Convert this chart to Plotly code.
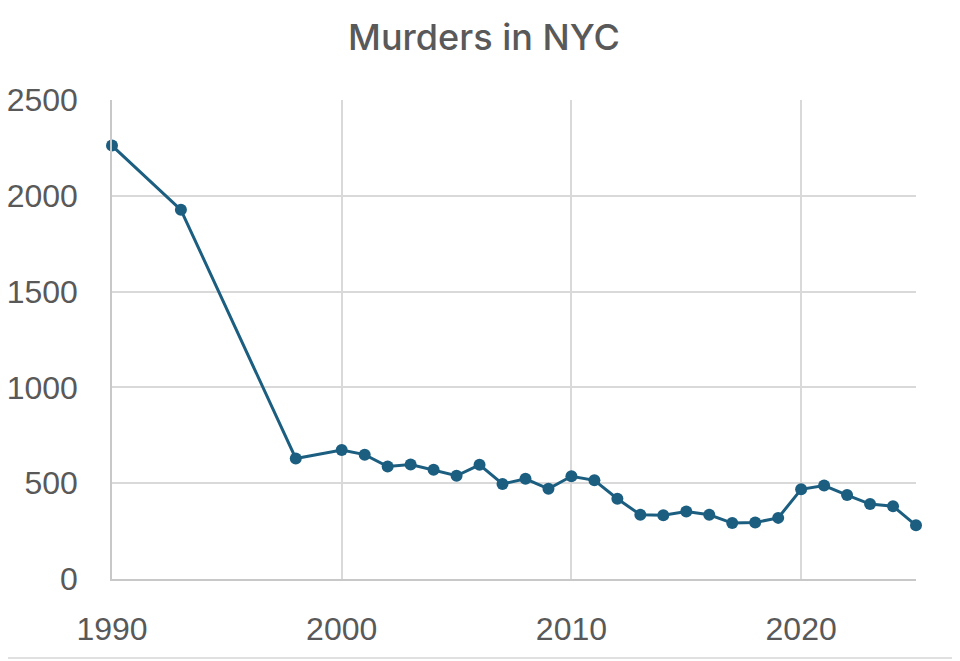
import plotly.graph_objects as go

years = [1990, 1993, 1998, 2000, 2001, 2002, 2003, 2004, 2005, 2006, 2007, 2008,
         2009, 2010, 2011, 2012, 2013, 2014, 2015, 2016, 2017, 2018, 2019, 2020,
         2021, 2022, 2023, 2024, 2025]
murders = [2262, 1927, 629, 673, 649, 587, 597, 570, 539, 596, 496, 523,
           471, 536, 515, 419, 335, 333, 352, 335, 292, 295, 319, 468,
           488, 438, 391, 380, 280]

x_ticks = [1990, 2000, 2010, 2020]
y_ticks = [0, 500, 1000, 1500, 2000, 2500]

color = "#1b5e80"
gray_text = "#595959"

W, H = 952, 653
fig = go.Figure()
fig.add_trace(go.Scatter(
    x=years, y=murders, mode="lines+markers",
    line=dict(color=color, width=3),
    marker=dict(color=color, size=12),
    cliponaxis=False,
    showlegend=False,
))

fig.update_layout(
    width=W, height=H,
    margin=dict(l=104, r=44, t=92, b=82, autoexpand=False),
    paper_bgcolor="white", plot_bgcolor="white",
    title=dict(text="Murders in NYC", x=0.5, xanchor="center", y=1 - 29 / H, yanchor="middle",
               font=dict(family="Inter, Open Sans, sans-serif", size=36, color=gray_text,
                         weight=500)),
    font=dict(family="Liberation Sans, Arial, sans-serif", color=gray_text),
)
fig.update_xaxes(
    range=[1990, 2025], tickvals=x_ticks, ticktext=[str(v) for v in x_ticks],
    showgrid=True, gridcolor="#d9d9d9", gridwidth=1.5,
    showline=True, linecolor="#c8c8c8", linewidth=1.5,
    zeroline=False, ticks="", ticklabelstandoff=21, automargin=False,
    tickfont=dict(size=32, color=gray_text),
)
fig.update_yaxes(
    range=[0, 2500], tickvals=y_ticks, ticktext=[str(v) for v in y_ticks],
    showgrid=True, gridcolor="#d9d9d9", gridwidth=1.5,
    showline=True, linecolor="#c8c8c8", linewidth=1.5,
    zeroline=False, ticks="", ticklabelstandoff=26, automargin=False,
    tickfont=dict(size=32, color=gray_text),
)
fig.add_shape(type="line", xref="paper", yref="paper", x0=-0.2, x1=1.1,
              y0=-79 / 479, y1=-79 / 479, line=dict(color="#e0e0e0", width=2))

fig.write_html("out.html")
